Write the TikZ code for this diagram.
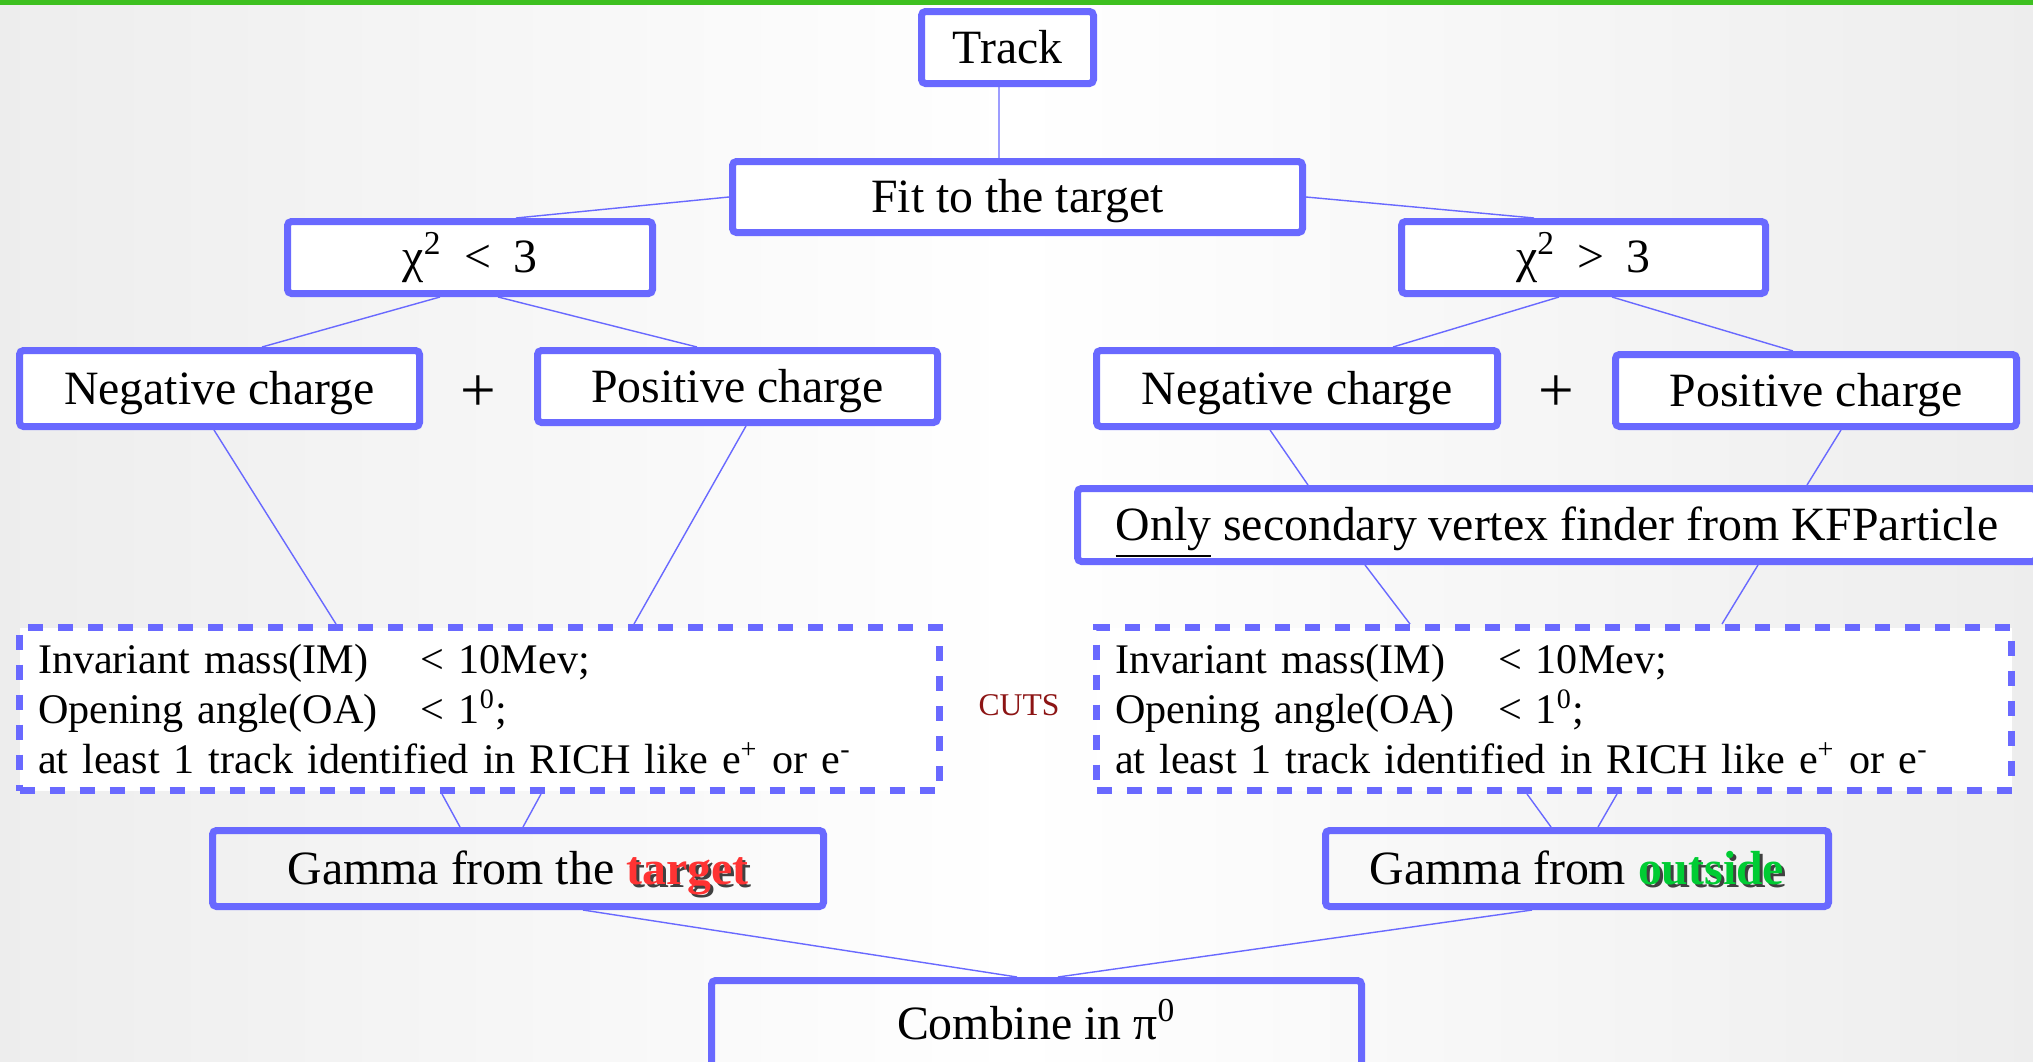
\documentclass[tikz,border=0pt]{standalone}
\usepackage{fontspec}
\setmainfont{Liberation Serif}
\definecolor{boxblue}{RGB}{105,105,255}
\definecolor{topgreen}{RGB}{62,192,32}
\definecolor{cutsred}{RGB}{140,20,20}
\definecolor{targetred}{RGB}{255,51,51}
\definecolor{outsidegreen}{RGB}{0,204,51}
\newcommand{\shadowword}[2]{\makebox[0pt][l]{\hspace{0.3mm}\raisebox{-0.3mm}{\textcolor{black!75}{\textbf{#2}}}}\textcolor{#1}{\textbf{#2}}}
\newcommand{\cutlabel}[1]{\makebox[38.3mm][l]{#1}}

\begin{document}
\begin{tikzpicture}[x=0.1mm,y=-0.1mm,
	box/.style={draw=boxblue,line width=0.7mm,rounded corners=0.4mm,fill=white,inner sep=0pt,
		text height=9pt,text depth=0pt,font=\fontsize{13.6}{16}\selectfont},
	cutbox/.style={draw=boxblue,line width=0.7mm,dash pattern=on 1.5mm off 1.5mm,fill=white,
		inner xsep=1.85mm,inner ysep=0pt,minimum height=16.3mm,align=left,
		font=\fontsize{12}{14.2}\selectfont},
	link/.style={draw=boxblue,line width=0.4pt}]
	
	\useasboundingbox (0,0) rectangle (2033,1061);
	\clip (0,0) rectangle (2033,1061);
	\shade[left color=black!7,right color=black!7,middle color=white] (0,0) rectangle (2033,1061);
	\fill[topgreen] (0,0) rectangle (2033,5);
	
	\node[box,minimum width=17.2mm,minimum height=7.2mm] (track) at (1007.5,47.5) {Track};
	\node[box,minimum width=57mm,minimum height=7.1mm] (fit) at (1017.5,197) {Fit to the target};
	\node[box,text height={},text depth={},minimum width=36.5mm,minimum height=7.2mm] (chiL) at (470,257.5) {χ\textsuperscript{2}\hspace{2.2mm}<\hspace{2.2mm}3};
	\node[box,text height={},text depth={},minimum width=36.4mm,minimum height=7.2mm] (chiR) at (1583.5,257.5) {χ\textsuperscript{2}\hspace{2.2mm}>\hspace{2.2mm}3};
	\node[box,minimum width=40mm,minimum height=7.6mm] (negL) at (219.5,388.5) {Negative charge};
	\node[box,minimum width=40mm,minimum height=7.2mm] (posL) at (737.5,386.5) {Positive charge};
	\node[box,minimum width=40.1mm,minimum height=7.6mm] (negR) at (1297,388.5) {Negative charge};
	\node[box,minimum width=40.1mm,minimum height=7.2mm] (posR) at (1816,390.5) {Positive charge};
	\node[font=\fontsize{18}{20}\selectfont] (plusL) at (478,394) {+};
	\node[font=\fontsize{18}{20}\selectfont] (plusR) at (1556,394) {+};
	\node[box,minimum width=95.9mm,minimum height=7.3mm] (kfp) at (1557,525) {\underline{Only} secondary vertex finder from KFParticle};
	
	\node[cutbox,text width=88.3mm] (cutL) at (479.5,709) {\cutlabel{Invariant mass(IM)}< 10Mev;\\
		\cutlabel{Opening angle(OA)}< 1\textsuperscript{0};\\
		at least 1 track identified in RICH like e\textsuperscript{+} or e\textsuperscript{-}};
	\node[cutbox,text width=87.8mm] (cutR) at (1554,709) {\cutlabel{Invariant mass(IM)}< 10Mev;\\
		\cutlabel{Opening angle(OA)}< 1\textsuperscript{0};\\
		at least 1 track identified in RICH like e\textsuperscript{+} or e\textsuperscript{-}};
	\node[text=cutsred,font=\fontsize{9}{11}\selectfont] (cuts) at (1019,705) {CUTS};
	
	\node[box,fill=none,minimum width=61.1mm,minimum height=7.6mm] (gamT) at (518,868.5) {Gamma from the \shadowword{targetred}{target}};
	\node[box,fill=none,minimum width=50.3mm,minimum height=7.6mm] (gamO) at (1577,868.5) {Gamma from \shadowword{outsidegreen}{outside}};
	\node[box,fill=none,minimum width=65mm,minimum height=8.7mm] (comb) at (1036.5,1024) {Combine in π\textsuperscript{0}};
	
	\path[link]
	([xshift=-0.85mm]track.south) edge ([xshift=-1.85mm]fit.north)
	(fit.west) edge ([xshift=4.6mm]chiL.north)
	(fit.east) edge ([xshift=-4.95mm]chiR.north)
	([xshift=-3mm]chiL.south) edge ([xshift=4.25mm]negL.north)
	([xshift=2.8mm]chiL.south) edge ([xshift=-4.05mm]posL.north)
	([xshift=-2.45mm]chiR.south) edge ([xshift=9.6mm]negR.north)
	([xshift=2.85mm]chiR.south) edge ([xshift=-2.3mm]posR.north)
	([xshift=-0.55mm]negL.south) edge ([xshift=-14.35mm]cutL.north)
	([xshift=0.85mm]posL.south) edge ([xshift=15.45mm]cutL.north)
	([xshift=-2.7mm]negR.south) edge ([xshift=-24.9mm]kfp.north)
	([xshift=2.5mm]posR.south) edge ([xshift=25mm]kfp.north)
	([xshift=-19.2mm]kfp.south) edge ([xshift=-14.4mm]cutR.north)
	([xshift=20.1mm]kfp.south) edge ([xshift=16.8mm]cutR.north)
	([xshift=-3.75mm]cutL.south) edge ([xshift=-5.8mm]gamT.north)
	([xshift=6.15mm]cutL.south) edge ([xshift=0.5mm]gamT.north)
	([xshift=-2.7mm]cutR.south) edge ([xshift=-2.6mm]gamO.north)
	([xshift=6.3mm]cutR.south) edge ([xshift=2.1mm]gamO.north)
	([xshift=6.5mm]gamT.south) edge ([xshift=-1.95mm]comb.north)
	([xshift=-4.5mm]gamO.south) edge ([xshift=2.15mm]comb.north);
\end{tikzpicture}
\end{document}
